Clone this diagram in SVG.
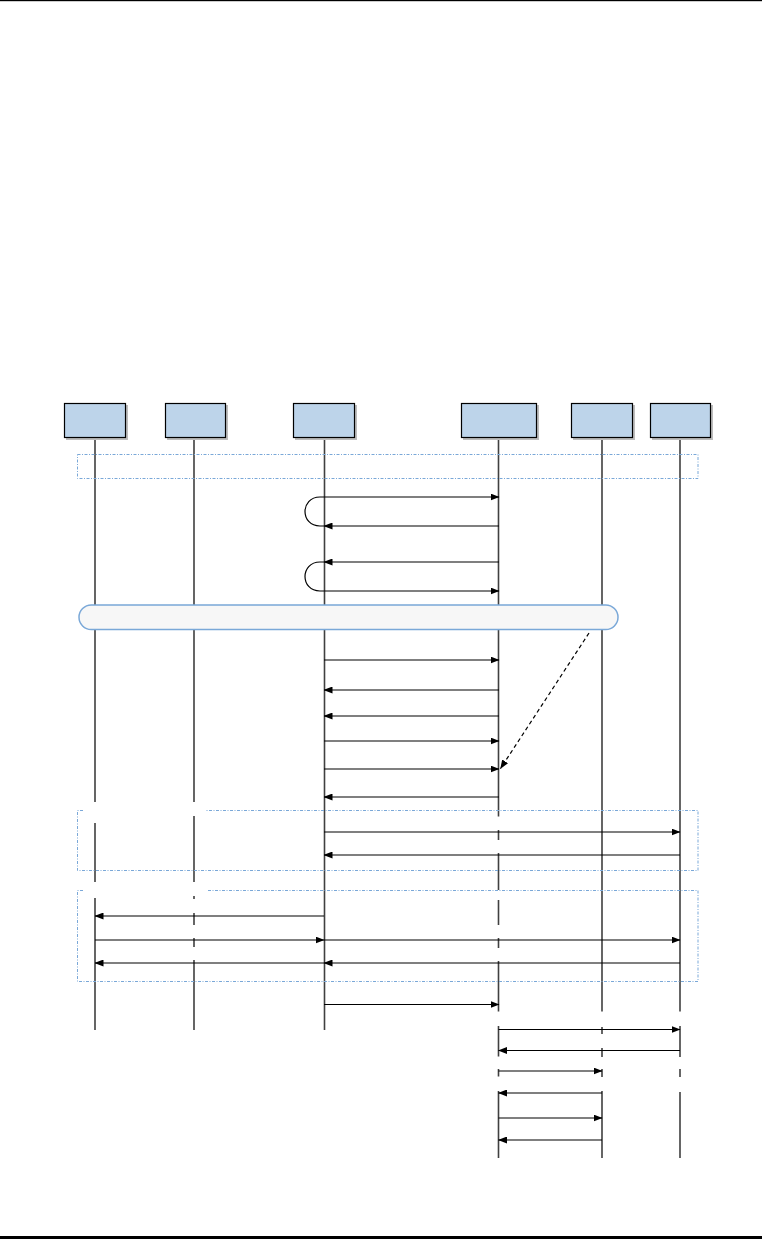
<svg xmlns="http://www.w3.org/2000/svg" width="762" height="1239" viewBox="0 0 762 1239">
<style>
.box{fill:#bdd4ea;stroke:#000;stroke-width:1.2}
.shadow{fill:#bdbdbd}
.life{stroke:#404040;stroke-width:1.6;fill:none}
.msg{stroke:#000;stroke-width:1.2;fill:none}
.frame{fill:none;stroke:#7aa8d8;stroke-width:1;stroke-dasharray:3 1.5 1 1.5}
.loop{stroke:#000;stroke-width:1.2;fill:none}
</style>
<defs>
<marker id="ah" markerWidth="9" markerHeight="7" refX="8.5" refY="3.5" orient="auto" markerUnits="userSpaceOnUse">
<path d="M0,0 L9,3.5 L0,7 z" fill="#000"/>
</marker>
</defs>
<rect x="0" y="0" width="762" height="1.2" fill="#000"/>
<rect x="0" y="1236" width="762" height="3" fill="#000"/>

<g id="lifelines">
<path class="life" d="M95,438V802M95,823V882M95,898V1030"/>
<path class="life" d="M194,438V802M194,816V882M194,896V899M194,913V925M194,938V947M194,960V1030"/>
<path class="life" d="M324.5,438V1030"/>
<path class="life" d="M498.5,438V816.5M498.5,830V840M498.5,853V890M498.5,900V925M498.5,938V948M498.5,961V1011.5M498.5,1026V1056.5M498.5,1069V1076.5M498.5,1091V1158"/>
<path class="life" d="M602,438V1011.5M602,1027V1034M602,1048V1057M602,1069V1077M602,1091V1158"/>
<path class="life" d="M680,438V1011.5M680,1026V1057M680,1069V1077M680,1092V1158"/>
</g>

<g id="node1"><rect class="shadow" x="66" y="405" width="62" height="35"/><rect class="box" x="64.5" y="403.5" width="61" height="34"/></g>
<g id="node2"><rect class="shadow" x="167" y="405" width="61" height="35"/><rect class="box" x="165.5" y="403.5" width="60" height="34"/></g>
<g id="node3"><rect class="shadow" x="295" y="405" width="62" height="35"/><rect class="box" x="293.5" y="403.5" width="61" height="34"/></g>
<g id="node4"><rect class="shadow" x="463" y="405" width="76" height="35"/><rect class="box" x="461.5" y="403.5" width="75" height="34"/></g>
<g id="node5"><rect class="shadow" x="573" y="405" width="62" height="35"/><rect class="box" x="571.5" y="403.5" width="61" height="34"/></g>
<g id="node6"><rect class="shadow" x="652" y="405" width="61" height="35"/><rect class="box" x="650.5" y="403.5" width="60" height="34"/></g>

<g id="frame1"><rect class="frame" x="77.5" y="454.5" width="620.5" height="24"/></g>
<g id="frame2"><path class="frame" d="M83,810.5H77.5V870.5H698V810.5H206"/></g>
<g id="frame3"><path class="frame" d="M83,890.5H77.5V981.5H698V890.5H207"/></g>

<g id="bar"><rect x="79" y="605" width="539" height="24.5" rx="12.25" fill="#f7f7f7" stroke="#7aa8d8" stroke-width="1.5"/></g>

<g id="connectors">
<path class="loop" d="M324,497H320C300,497 300,526 320,526H324"/>
<path class="loop" d="M324,562H320C300,562 300,591 320,591H324"/>
<line class="msg" x1="324" y1="497" x2="499" y2="497" marker-end="url(#ah)"/>
<line class="msg" x1="499" y1="526" x2="324" y2="526" marker-end="url(#ah)"/>
<line class="msg" x1="499" y1="562" x2="324" y2="562" marker-end="url(#ah)"/>
<line class="msg" x1="324" y1="591" x2="499" y2="591" marker-end="url(#ah)"/>
<line class="msg" x1="324" y1="660" x2="499" y2="660" marker-end="url(#ah)"/>
<line class="msg" x1="499" y1="690" x2="324" y2="690" marker-end="url(#ah)"/>
<line class="msg" x1="499" y1="716" x2="324" y2="716" marker-end="url(#ah)"/>
<line class="msg" x1="324" y1="741" x2="499" y2="741" marker-end="url(#ah)"/>
<line class="msg" x1="324" y1="769" x2="499" y2="769" marker-end="url(#ah)"/>
<line class="msg" x1="499" y1="797" x2="324" y2="797" marker-end="url(#ah)"/>
<line class="msg" x1="589" y1="633" x2="500.5" y2="768.5" stroke-dasharray="4 3" marker-end="url(#ah)"/>
<line class="msg" x1="324" y1="832" x2="680" y2="832" marker-end="url(#ah)"/>
<line class="msg" x1="680" y1="855" x2="324" y2="855" marker-end="url(#ah)"/>
<line class="msg" x1="324" y1="916" x2="95" y2="916" marker-end="url(#ah)"/>
<line class="msg" x1="95" y1="940" x2="324" y2="940" marker-end="url(#ah)"/>
<line class="msg" x1="324" y1="940" x2="680" y2="940" marker-end="url(#ah)"/>
<line class="msg" x1="680" y1="963" x2="324" y2="963" marker-end="url(#ah)"/>
<line class="msg" x1="324" y1="963" x2="95" y2="963" marker-end="url(#ah)"/>
<line class="msg" x1="324" y1="1004.5" x2="499" y2="1004.5" marker-end="url(#ah)"/>
<line class="msg" x1="498.5" y1="1029.5" x2="680" y2="1029.5" marker-end="url(#ah)"/>
<line class="msg" x1="680" y1="1050.5" x2="498.5" y2="1050.5" marker-end="url(#ah)"/>
<line class="msg" x1="498.5" y1="1071" x2="602" y2="1071" marker-end="url(#ah)"/>
<line class="msg" x1="602" y1="1093" x2="498.5" y2="1093" marker-end="url(#ah)"/>
<line class="msg" x1="498.5" y1="1118" x2="602" y2="1118" marker-end="url(#ah)"/>
<line class="msg" x1="602" y1="1140" x2="498.5" y2="1140" marker-end="url(#ah)"/>
</g>
</svg>
